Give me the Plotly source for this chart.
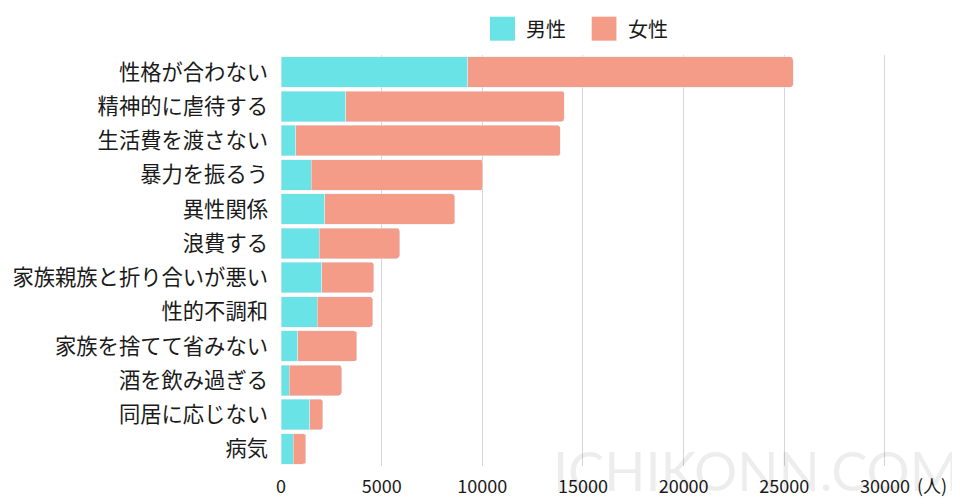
import plotly.graph_objects as go

# 離婚の申し立て動機（人）
REASONS = ["性格が合わない", "精神的に虐待する", "生活費を渡さない", "暴力を振るう",
           "異性関係", "浪費する", "家族親族と折り合いが悪い", "性的不調和",
           "家族を捨てて省みない", "酒を飲み過ぎる", "同居に応じない", "病気"]
MALE = [9270, 3220, 730, 1490, 2180, 1910, 2030, 1790, 820, 420, 1430, 620]
FEMALE = [16170, 10850, 13150, 8520, 6450, 3980, 2580, 2760, 2950, 2590, 650, 610]
X_TICKS = [0, 5000, 10000, 15000, 20000, 25000, 30000]
X_LABELS = [str(v) for v in X_TICKS]

MALE_COLOR = "#69E3E6"
FEMALE_COLOR = "#F59C88"
FONT = "Noto Sans CJK JP"

fig = go.Figure()
fig.add_trace(go.Bar(y=REASONS, x=MALE, name="男性", orientation="h",
                     marker_color=MALE_COLOR, showlegend=False))
fig.add_trace(go.Bar(y=REASONS, x=FEMALE, name="女性", orientation="h",
                     marker_color=FEMALE_COLOR, showlegend=False))

# ページ本体の余白 (8px) を差し引いたサイズ
fig.update_layout(
    width=952, height=496,
    margin=dict(l=273, r=65, t=47, b=38),
    barmode="stack", bargap=0.11, barcornerradius=3,
    paper_bgcolor="white", plot_bgcolor="white",
    font=dict(family=FONT, color="#1a1a1a"),
)
fig.update_xaxes(range=[0, 30500], tickvals=X_TICKS, ticktext=X_LABELS, ticks="",
                 showgrid=True, gridcolor="#d6d6d6", gridwidth=1, automargin=False,
                 ticklabelstandoff=8,
                 zeroline=False, showline=False, tickfont=dict(size=18))
fig.update_yaxes(autorange="reversed", ticks="", showgrid=False, automargin=False,
                 ticklabelstandoff=12, tickfont=dict(size=21.3))

# 凡例（大きめの四角）
legend = [(0.3404, 0.3811, MALE_COLOR, "男性"), (0.5060, 0.5463, FEMALE_COLOR, "女性")]
for x0, x1, col, name in legend:
    fig.add_shape(type="rect", xref="paper", yref="paper", x0=x0, x1=x1,
                  y0=1.0348, y1=1.0932, fillcolor=col, line_width=0)
    fig.add_annotation(xref="paper", yref="paper", x=x1 + 0.015, y=1.064,
                       xanchor="left", yanchor="middle", showarrow=False,
                       text=name, font=dict(size=20, color="#1a1a1a"))

# 単位
fig.add_annotation(x=30000, xref="x", yref="paper", y=0, xanchor="left",
                   yanchor="middle", xshift=30, yshift=-19, showarrow=False,
                   text="(人)", font=dict(size=18, color="#1a1a1a"))

# 透かし
fig.add_annotation(xref="paper", yref="paper", x=0.775, y=-0.01,
                   xanchor="center", yanchor="middle", showarrow=False,
                   text="ICHIKONN.COM", font=dict(family="Lato", size=54,
                                                  color="rgba(0,0,0,0.07)"))

fig.write_html("out.html")
